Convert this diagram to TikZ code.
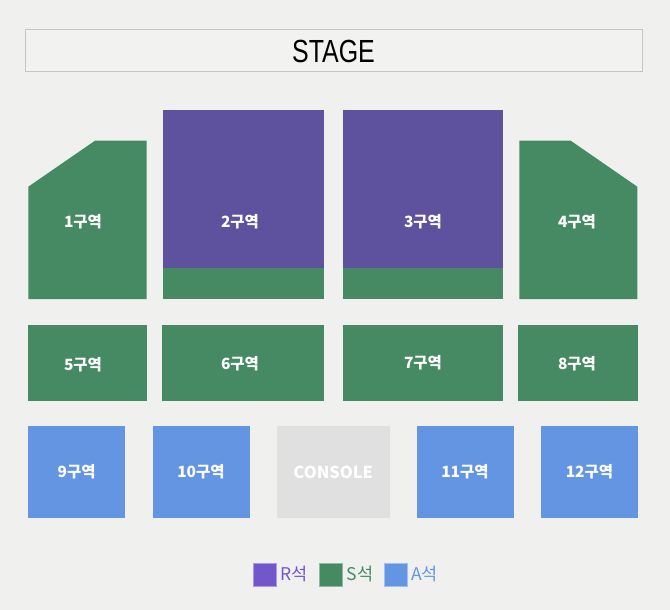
\documentclass[tikz,border=0pt]{standalone}
\usepackage{fontspec}
\setmainfont{Liberation Sans}
\newfontfamily\kr{Noto Sans CJK KR}
\definecolor{bg}{HTML}{F0F0EF}
\definecolor{stagefill}{HTML}{F2F2F1}
\definecolor{stageline}{HTML}{C6C6C6}
\definecolor{rseat}{HTML}{5E519E}
\definecolor{sseat}{HTML}{468A63}
\definecolor{aseat}{HTML}{6495E3}
\definecolor{console}{HTML}{E0E0E0}
\definecolor{rleg}{HTML}{7257CC}
\begin{document}
\begin{tikzpicture}[x=1pt,y=-1pt,
  zonelabel/.style={inner sep=0pt, text=white, font=\kr\bfseries\fontsize{15.5}{15.5}\selectfont},
  legtext/.style={inner sep=0pt, anchor=west, font=\kr\fontsize{17.5}{17.5}\selectfont},
  legbox/.style={inner sep=0pt, minimum width=23pt, minimum height=23pt, draw=white!40!#1, line width=0.6pt, fill=#1}]
\fill[bg] (0,0) rectangle (670,610);
\useasboundingbox (0,0) rectangle (670,610);
% stage
\node[draw=stageline, fill=stagefill, line width=1pt, minimum width=617pt, minimum height=42pt, inner sep=0pt,
  font=\fontsize{32}{32}\selectfont] (stage) at (333.5,51) {\scalebox{0.78}[1]{STAGE}};
% row 1
\fill[sseat] (28.3,186.7) -- (95,140.7) -- (146.7,140.7) -- (146.7,299) -- (28.3,299) -- cycle;
\fill[rseat] (162.7,110.5) rectangle (324,267.5);
\fill[sseat] (162.7,267.5) rectangle (324,299);
\fill[rseat] (342.7,110.5) rectangle (503.3,267.5);
\fill[sseat] (342.7,267.5) rectangle (503.3,299);
\fill[sseat] (519.3,140.7) -- (570.7,140.7) -- (637.3,186.7) -- (637.3,299) -- (519.3,299) -- cycle;
\node[zonelabel] (z1) at (83,222) {1구역};
\node[zonelabel] (z2) at (240,222) {2구역};
\node[zonelabel] (z3) at (423,222) {3구역};
\node[zonelabel] (z4) at (577,222) {4구역};
% row 2
\fill[sseat] (28.2,325) rectangle (146.6,401);
\fill[sseat] (162.4,325) rectangle (324,401);
\fill[sseat] (342.7,325) rectangle (503,401);
\fill[sseat] (518.4,325) rectangle (638,401);
\node[zonelabel] (z5) at (83,365) {5구역};
\node[zonelabel] (z6) at (240,364) {6구역};
\node[zonelabel] (z7) at (423,363) {7구역};
\node[zonelabel] (z8) at (577,364) {8구역};
% row 3
\fill[aseat] (28.2,425.7) rectangle (125.2,517.7);
\fill[aseat] (152.6,425.7) rectangle (249.6,517.7);
\fill[console] (277,425.7) rectangle (389.7,517.7);
\fill[aseat] (416.7,425.7) rectangle (513.7,517.7);
\fill[aseat] (541,425.7) rectangle (638,517.7);
\node[zonelabel] (z9) at (76.7,472) {9구역};
\node[zonelabel] (z10) at (201,472) {10구역};
\node[zonelabel, font=\kr\bfseries\fontsize{16.5}{16.5}\selectfont] (con) at (333.3,472) {CONSOLE};
\node[zonelabel] (z11) at (465,472) {11구역};
\node[zonelabel] (z12) at (589.5,472) {12구역};
% legend
\node[legbox=rleg] (lr) at (264.3,575) {};
\node[legtext, text=rleg] (lrt) at (280.5,574) {R석};
\node[legbox=sseat] (ls) at (330.3,575) {};
\node[legtext, text=sseat] (lst) at (346.5,574) {S석};
\node[legbox=aseat] (la) at (395.3,575) {};
\node[legtext, text=aseat] (lat) at (411,574) {A석};
\end{tikzpicture}
\end{document}
